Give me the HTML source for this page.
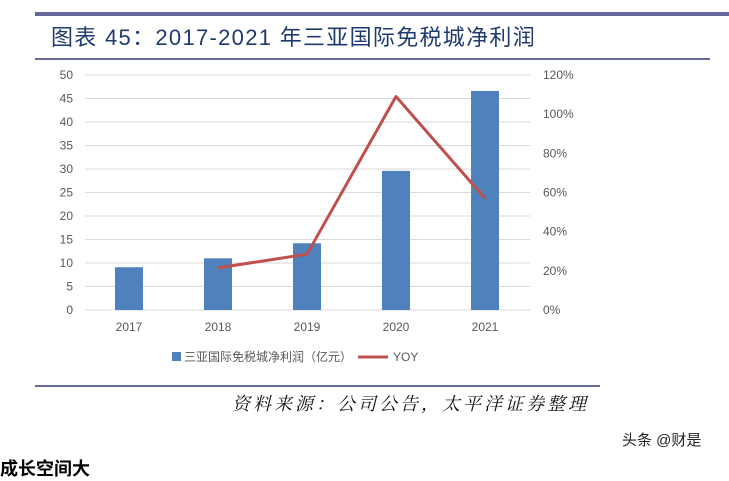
<!DOCTYPE html>
<html><head><meta charset="utf-8"><style>
body{margin:0;width:729px;height:461px;background:#fff;position:relative;overflow:hidden;font-family:"Liberation Sans","Noto Sans CJK SC",sans-serif}
.a{position:absolute}
</style></head><body>
<div class="a" style="left:35px;top:12px;width:694px;height:4px;background:#66689a"></div>
<div class="a" style="left:51px;top:20px;font-size:22px;color:#1f3a6e;font-family:'Liberation Sans','Noto Sans CJK SC',sans-serif;letter-spacing:1.3px">图表 45：2017-2021 年三亚国际免税城净利润</div>
<div class="a" style="left:35px;top:58px;width:675px;height:2px;background:#66689a"></div>
<svg class="a" style="left:0;top:0" width="729" height="461">
<g id="g"></g>
</svg>
<div class="a" style="left:35px;top:385px;width:565px;height:2px;background:#66689a"></div>
<div class="a" style="left:232px;top:390px;font-size:18px;letter-spacing:3px;font-style:italic;color:#111;font-family:'Liberation Serif','Noto Serif CJK SC',serif">资料来源：公司公告，太平洋证券整理</div>
<div class="a" style="left:622px;top:429px;font-size:15px;color:#222">头条 @财是</div>
<div class="a" style="left:0px;top:455px;font-size:18px;font-weight:bold;color:#000">成长空间大</div>
<script>
const categories=["2017","2018","2019","2020","2021"];
const profit=[9.1,11.0,14.2,29.6,46.6];
const yoy=[null,21.5,28.5,109,57];
const leftTicks=[0,5,10,15,20,25,30,35,40,45,50];
const rightTicks=[0,20,40,60,80,100,120];
const g=document.getElementById('g');
const NS='http://www.w3.org/2000/svg';
const y0=310,y1=75,xL=85,xR=530,step=89,x0=129;
const yL=v=>y0-(v/50)*(y0-y1);
const yR=v=>y0-(v/120)*(y0-y1);
const xC=i=>x0+i*step;
function mk(t,a,txt){const e=document.createElementNS(NS,t);for(const k in a)e.setAttribute(k,a[k]);if(txt!=null)e.textContent=txt;g.appendChild(e);return e;}
leftTicks.forEach(v=>{
 const l=mk('line',{x1:xL,x2:xR,y1:yL(v),y2:yL(v),stroke:'#d9d9d9','stroke-width':1});
 
 
 const t=mk('text',{x:73,y:yL(v)+4,'text-anchor':'end','font-size':12,fill:'#595959'},String(v));
 
 
});
rightTicks.forEach(v=>{
 const t=mk('text',{x:543,y:yR(v)+4,'font-size':12,fill:'#595959'},v+'%');
 
 
});
categories.forEach((c,i)=>{
 const b=mk('rect',{x:xC(i)-14,y:yL(profit[i]),width:28,height:y0-yL(profit[i]),fill:'#4f81bd'});
 
 
 const t=mk('text',{x:xC(i),y:331,'text-anchor':'middle','font-size':12,fill:'#595959'},c);
 
 
});
let pts=[];yoy.forEach((v,i)=>{if(v!=null)pts.push(xC(i)+','+yR(v));});
const pl=mk('polyline',{points:pts.join(' '),fill:'none',stroke:'#c0504d','stroke-width':3,'stroke-linejoin':'round'});


const ls=mk('rect',{x:172,y:352,width:9,height:9,fill:'#4f81bd'});


const lt=mk('text',{x:184,y:361,'font-size':12,fill:'#595959'},'三亚国际免税城净利润（亿元）');


const ll=mk('line',{x1:358,x2:388,y1:357,y2:357,stroke:'#c0504d','stroke-width':3});


const lt2=mk('text',{x:393,y:361,'font-size':12,fill:'#595959'},'YOY');


</script>
</body></html>
